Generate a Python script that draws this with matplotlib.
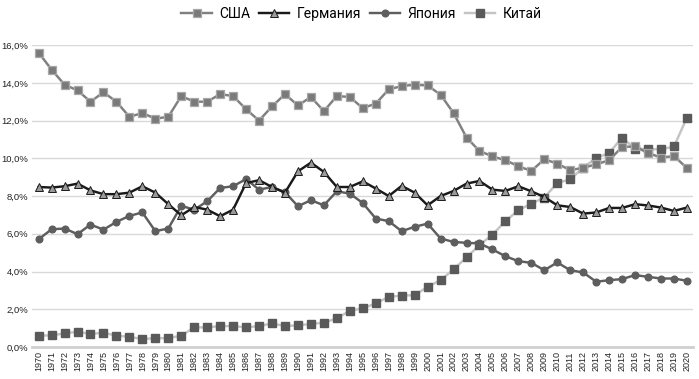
import matplotlib
matplotlib.use("Agg")
import matplotlib.pyplot as plt
from matplotlib.ticker import FuncFormatter

# ---------------------------------------------------------------------------
# Data (share of world, %)
# ---------------------------------------------------------------------------
years = list(range(1970, 2021))

usa = [15.6, 14.7, 13.9, 13.6, 13.0, 13.5, 13.0, 12.2, 12.4, 12.1,
       12.2, 13.3, 13.0, 13.0, 13.4, 13.3, 12.6, 12.0, 12.75, 13.4,
       12.8, 13.25, 12.5, 13.3, 13.25, 12.66, 12.9, 13.65, 13.83, 13.9,
       13.86, 13.37, 12.4, 11.1, 10.39, 10.1, 9.9, 9.58, 9.33, 9.95,
       9.72, 9.37, 9.5, 9.68, 9.9, 10.6, 10.63, 10.28, 10.04, 10.12,
       9.49]

germany = [8.48, 8.45, 8.52, 8.66, 8.3, 8.1, 8.1, 8.18, 8.52, 8.18,
           7.57, 6.98, 7.42, 7.28, 6.93, 7.28, 8.69, 8.84, 8.48, 8.18,
           9.31, 9.77, 9.28, 8.48, 8.48, 8.78, 8.4, 8.0, 8.54, 8.18,
           7.51, 8.0, 8.27, 8.66, 8.8, 8.34, 8.27, 8.52, 8.25, 7.95,
           7.51, 7.42, 7.07, 7.13, 7.37, 7.37, 7.57, 7.5, 7.39, 7.21,
           7.39]

japan = [5.71, 6.24, 6.28, 5.98, 6.49, 6.22, 6.63, 6.95, 7.13, 6.14,
         6.28, 7.48, 7.28, 7.72, 8.43, 8.52, 8.9, 8.34, 8.48, 8.2,
         7.46, 7.78, 7.51, 8.25, 8.13, 7.63, 6.81, 6.67, 6.14, 6.37,
         6.54, 5.75, 5.57, 5.52, 5.49, 5.17, 4.81, 4.55, 4.46, 4.07,
         4.48, 4.07, 3.95, 3.46, 3.54, 3.6, 3.81, 3.72, 3.63, 3.63,
         3.51]

china = [0.6, 0.62, 0.72, 0.81, 0.69, 0.76, 0.6, 0.54, 0.42, 0.47,
         0.47, 0.6, 1.04, 1.04, 1.11, 1.11, 1.04, 1.11, 1.25, 1.11,
         1.15, 1.22, 1.29, 1.52, 1.92, 2.05, 2.31, 2.66, 2.72, 2.75,
         3.19, 3.54, 4.11, 4.75, 5.4, 5.96, 6.67, 7.25, 7.6, 7.92,
         8.69, 8.89, 9.5, 10.02, 10.28, 11.1, 10.5, 10.5, 10.47, 10.63,
         12.15]

y_ticks = [0, 2, 4, 6, 8, 10, 12, 14, 16]

# ---------------------------------------------------------------------------
# Figure
# ---------------------------------------------------------------------------
fig = plt.figure(figsize=(6.99, 3.79), dpi=100)
ax = fig.add_axes([0.046, 0.0844, 0.946, 0.7966])

LW = 1.75
ax.plot(years, usa, color="#808080", lw=LW, marker="s", ms=5.2,
        mfc="#7a7a7a", mec="#a8a8a8", mew=0.9, label="США", zorder=3)
ax.plot(years, germany, color="#1a1a1a", lw=LW, marker="^", ms=5.5,
        mfc="#9a9a9a", mec="#1a1a1a", mew=0.7, label="Германия", zorder=4)
ax.plot(years, japan, color="#5e5e5e", lw=LW, marker="o", ms=4.8,
        mfc="#5e5e5e", mec="#5e5e5e", label="Япония", zorder=3)
ax.plot(years, china, color="#c4c4c4", lw=LW, marker="s", ms=5.2,
        mfc="#5a5a5a", mec="#5a5a5a", label="Китай", zorder=2)

ax.set_xlim(1969.5, 2020.5)
ax.set_ylim(0, 16)
ax.set_yticks(y_ticks)
ax.yaxis.set_major_formatter(FuncFormatter(lambda v, p: f"{v:.1f}%".replace(".", ",")))
ax.set_xticks(years)
ax.set_xticklabels([str(y) for y in years], rotation=90, fontsize=6.5,
                   family="Liberation Sans")
for lbl in ax.get_yticklabels():
    lbl.set_fontsize(6.8)
    lbl.set_family("Liberation Sans")

ax.grid(axis="y", color="#d9d9d9", lw=1.0)
ax.set_axisbelow(True)
for s in ["top", "right", "left"]:
    ax.spines[s].set_visible(False)
ax.spines["bottom"].set_color("#d0d0d0")
ax.spines["bottom"].set_linewidth(2)
ax.tick_params(axis="x", length=0, pad=3, colors="#222222")
ax.tick_params(axis="y", length=0, pad=3, colors="#222222")

fig.legend(loc="upper center", bbox_to_anchor=(0.517, 1.015), ncol=4,
           frameon=False, handlelength=2.2, handletextpad=0.5,
           columnspacing=0.65, prop={"family": "Roboto", "size": 10})

fig.savefig("out.png", dpi=100)
